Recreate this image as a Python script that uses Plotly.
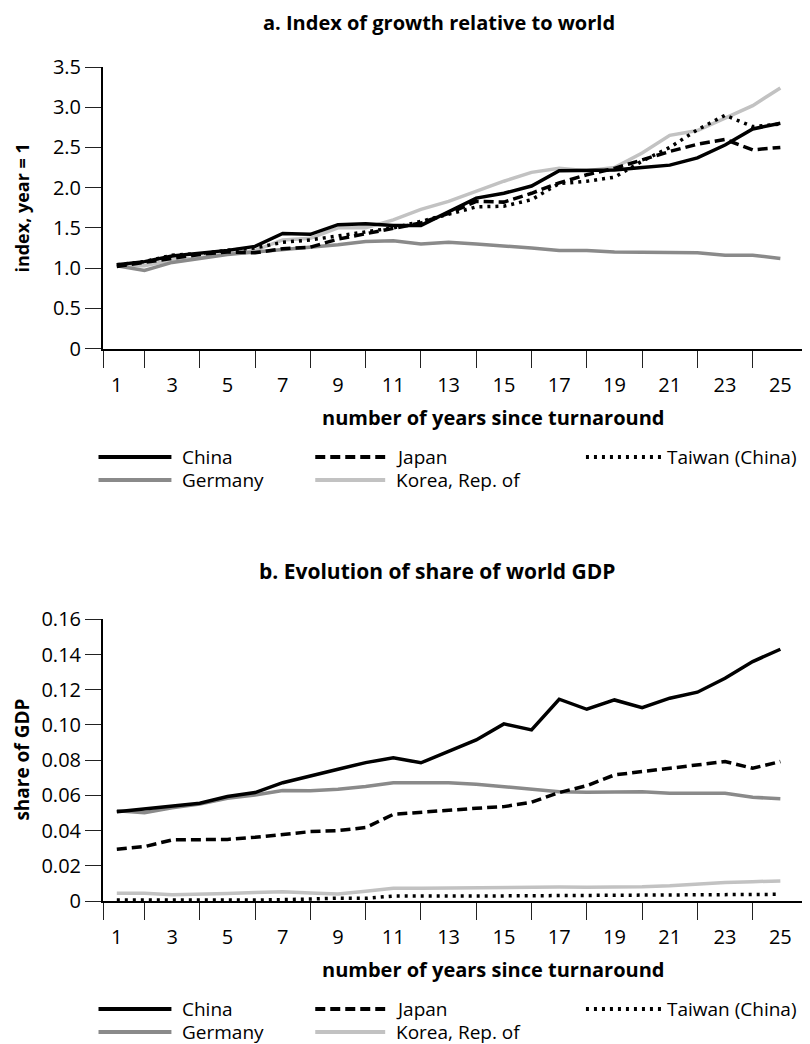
import plotly.graph_objects as go

years = list(range(1, 26))
odd_years = list(range(1, 26, 2))
minor_tick_years = [0.5] + list(range(2, 27, 2))

series_names = ["China", "Japan", "Taiwan (China)", "Germany", "Korea, Rep. of"]

# Panel a: index of growth relative to world (year 1 = 1)
china_a = [1.04, 1.08, 1.15, 1.18, 1.22, 1.27, 1.43, 1.42, 1.54, 1.55, 1.53, 1.53, 1.70,
           1.87, 1.93, 2.02, 2.21, 2.21, 2.22, 2.25, 2.28, 2.37, 2.53, 2.73, 2.80]
japan_a = [1.02, 1.07, 1.13, 1.17, 1.20, 1.19, 1.24, 1.26, 1.36, 1.43, 1.50, 1.56, 1.68,
           1.83, 1.82, 1.93, 2.06, 2.16, 2.24, 2.35, 2.45, 2.54, 2.60, 2.47, 2.50]
taiwan_a = [1.04, 1.08, 1.16, 1.18, 1.22, 1.25, 1.32, 1.35, 1.40, 1.45, 1.50, 1.58, 1.67,
            1.76, 1.77, 1.85, 2.05, 2.08, 2.13, 2.33, 2.50, 2.72, 2.90, 2.76, 2.79]
germany_a = [1.03, 0.97, 1.07, 1.12, 1.17, 1.20, 1.23, 1.25, 1.29, 1.33, 1.34, 1.30, 1.32,
             1.30, 1.28, 1.25, 1.22, 1.22, 1.20, 1.20, 1.20, 1.19, 1.16, 1.16, 1.12]
korea_a = [1.03, 1.03, 1.10, 1.13, 1.18, 1.22, 1.35, 1.37, 1.50, 1.50, 1.60, 1.73, 1.83,
           1.96, 2.08, 2.19, 2.24, 2.21, 2.25, 2.43, 2.65, 2.71, 2.87, 3.02, 3.24]

# Panel b: share of world GDP
china_b = [0.0507, 0.0523, 0.0536, 0.0555, 0.0593, 0.0616, 0.0672, 0.0712, 0.0748, 0.0786,
           0.0814, 0.0785, 0.0848, 0.0915, 0.1006, 0.0972, 0.1146, 0.1089, 0.1142, 0.1098,
           0.1152, 0.1186, 0.1265, 0.1360, 0.1430]
japan_b = [0.0294, 0.0309, 0.0347, 0.0350, 0.0350, 0.0362, 0.0379, 0.0394, 0.0400, 0.0417,
           0.0492, 0.0504, 0.0517, 0.0527, 0.0536, 0.0561, 0.0616, 0.0655, 0.0716, 0.0735,
           0.0754, 0.0769, 0.0792, 0.0754, 0.0792]
taiwan_b = [0.0006, 0.0007, 0.0008, 0.0007, 0.0006, 0.0005, 0.0007, 0.0011, 0.0016, 0.0015,
            0.0028, 0.0027, 0.0027, 0.0028, 0.0029, 0.0030, 0.0030, 0.0031, 0.0032, 0.0032,
            0.0033, 0.0034, 0.0035, 0.0036, 0.0038]
germany_b = [0.0513, 0.0502, 0.0530, 0.0551, 0.0584, 0.0602, 0.0627, 0.0626, 0.0635, 0.0650,
             0.0672, 0.0674, 0.0672, 0.0663, 0.0650, 0.0636, 0.0621, 0.0617, 0.0617, 0.0621,
             0.0612, 0.0612, 0.0612, 0.0589, 0.0581]
korea_b = [0.0044, 0.0044, 0.0036, 0.0037, 0.0042, 0.0048, 0.0052, 0.0046, 0.0040, 0.0055,
           0.0072, 0.0072, 0.0074, 0.0076, 0.0077, 0.0078, 0.0079, 0.0078, 0.0078, 0.0081,
           0.0086, 0.0097, 0.0105, 0.0110, 0.0114]

ytick_a = [0, 0.5, 1.0, 1.5, 2.0, 2.5, 3.0, 3.5]
ytick_a_text = ["0", "0.5", "1.0", "1.5", "2.0", "2.5", "3.0", "3.5"]
ytick_b = [0, 0.02, 0.04, 0.06, 0.08, 0.10, 0.12, 0.14, 0.16]
ytick_b_text = ["0", "0.02", "0.04", "0.06", "0.08", "0.10", "0.12", "0.14", "0.16"]

FONT = "Open Sans"
W, H = 810, 1044
OFF = 8  # page body margin offset (page pixels = figure pixels + OFF)

# target plot-area edges in page pixels
X_LEFT, X_RIGHT = 102.5, 808.3
A_TOP, A_BOTTOM = 67.0, 348.5
B_TOP, B_BOTTOM = 619.3, 901.0

ML = X_LEFT - OFF
MR = W - (X_RIGHT - OFF)
MT = A_TOP - OFF
MB = H - (B_BOTTOM - OFF)
PW = W - ML - MR
PH = H - MT - MB


def px(x):
    return (x - OFF - ML) / PW


def py(y):
    return (H - MB - (y - OFF)) / PH


styles = {
    "China": dict(color="#000000", width=3.5, dash="solid"),
    "Japan": dict(color="#000000", width=3.5, dash="10px,5px"),
    "Taiwan (China)": dict(color="#000000", width=3.5, dash="3px,5px"),
    "Germany": dict(color="#8a8a8a", width=3.5, dash="solid"),
    "Korea, Rep. of": dict(color="#c2c2c2", width=3.5, dash="solid"),
}

data_a = {"China": china_a, "Japan": japan_a, "Taiwan (China)": taiwan_a,
          "Germany": germany_a, "Korea, Rep. of": korea_a}
data_b = {"China": china_b, "Japan": japan_b, "Taiwan (China)": taiwan_b,
          "Germany": germany_b, "Korea, Rep. of": korea_b}

draw_order = ["Korea, Rep. of", "Germany", "Taiwan (China)", "Japan", "China"]

fig = go.Figure()
for name in draw_order:
    fig.add_trace(go.Scatter(x=years, y=data_a[name], mode="lines", name=name,
                             line=styles[name], xaxis="x", yaxis="y", showlegend=False))
for name in draw_order:
    fig.add_trace(go.Scatter(x=years, y=data_b[name], mode="lines", name=name,
                             line=styles[name], xaxis="x2", yaxis="y2", showlegend=False))


def xaxis_cfg(anchor):
    return dict(anchor=anchor, range=[0.5, 26], tickmode="array", tickvals=odd_years,
                ticktext=[str(v) for v in odd_years], ticks="outside", ticklen=17,
                tickcolor="rgba(0,0,0,0)", showline=True, linecolor="#000000", linewidth=2,
                showgrid=False, zeroline=False,
                tickfont=dict(family=FONT, size=20, color="#000000"),
                minor=dict(tickmode="array", tickvals=minor_tick_years, ticks="outside",
                           ticklen=17, tickwidth=1.3, tickcolor="#222222", showgrid=False))


def yaxis_cfg(anchor, domain, rng, vals, texts):
    return dict(anchor=anchor, domain=domain, range=rng, tickmode="array", tickvals=vals,
                ticktext=texts, ticks="outside", ticklen=16, tickwidth=1.3,
                tickcolor="#222222", showline=True, linecolor="#000000", linewidth=2,
                showgrid=False, zeroline=False,
                tickfont=dict(family=FONT, size=20, color="#000000"))


fig.update_layout(
    width=W, height=H,
    margin=dict(l=ML, r=MR, t=MT, b=MB, pad=0),
    paper_bgcolor="white", plot_bgcolor="white",
    showlegend=False,
    xaxis=xaxis_cfg("y"),
    yaxis=yaxis_cfg("x", [py(A_BOTTOM), py(A_TOP)], [0, 3.5], ytick_a, ytick_a_text),
    xaxis2=xaxis_cfg("y2"),
    yaxis2=yaxis_cfg("x2", [py(B_BOTTOM), py(B_TOP)], [0, 0.16], ytick_b, ytick_b_text),
)

annotations = []
shapes = []


def text(x, y, s, size, bold=False, xanchor="center", angle=0):
    annotations.append(dict(
        x=px(x), y=py(y), xref="paper", yref="paper", text=("<b>%s</b>" % s) if bold else s,
        showarrow=False, xanchor=xanchor, yanchor="middle", textangle=angle,
        font=dict(family=FONT, size=size, color="#000000")))


# Panel titles and axis titles (positions in page pixels)
text(439, 22.5, "a. Index of growth relative to world", 20, bold=True)
text(437, 571, "b. Evolution of share of world GDP", 21, bold=True)
text(493, 417, "number of years since turnaround", 20, bold=True)
text(493, 969, "number of years since turnaround", 20, bold=True)
text(21, 208, "index, year = 1", 18, bold=True, angle=-90)
text(21, 760, "share of GDP", 19, bold=True, angle=-90)

# Legends (drawn for each panel)
legend_layout = [
    ("China", 98, 171, 180, 0),
    ("Japan", 315, 385, 394, 0),
    ("Taiwan (China)", 586, 662, 665, 0),
    ("Germany", 98, 171, 180, 1),
    ("Korea, Rep. of", 315, 385, 394, 1),
]
for base in (457, 1009):
    for name, x0, x1, xt, row in legend_layout:
        yy = base + row * 23
        st = styles[name]
        shapes.append(dict(type="line", xref="paper", yref="paper",
                           x0=px(x0), x1=px(x1), y0=py(yy), y1=py(yy),
                           line=dict(color=st["color"], width=4, dash=st["dash"])))
        text(xt, yy, name, 19, xanchor="left")

fig.update_layout(annotations=annotations, shapes=shapes)
fig.write_html("out.html")
